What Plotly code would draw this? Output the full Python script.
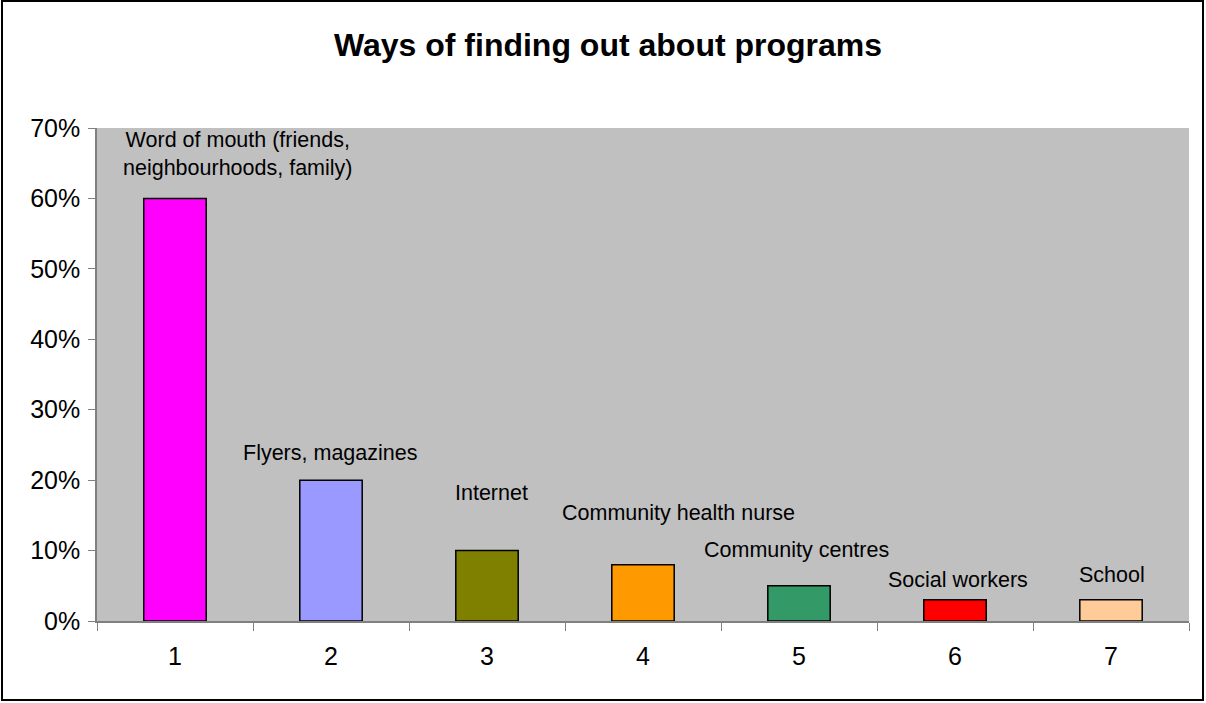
import plotly.graph_objects as go

categories = ["1", "2", "3", "4", "5", "6", "7"]
values = [0.60, 0.20, 0.10, 0.08, 0.05, 0.03, 0.03]
labels = ["Word of mouth (friends,<br>neighbourhoods, family)", "Flyers, magazines", "Internet",
          "Community health nurse", "Community centres", "Social workers", "School"]
colors = ["#FF00FF", "#9999FF", "#808000", "#FF9900", "#339966", "#FF0000", "#FFCC99"]

# label placement offsets (pixels), as dragged in the original
label_dx = [62, -1, 4, 35, -3, 3, 1]
label_dy = [44, 27, 58, 52, 36, 20, 25]

W, H = 1206, 703
ml, mr, mt, mb = 97, 17, 128, 82
pw, ph = W - ml - mr, H - mt - mb
FONT = "Liberation Sans, Arial"

fig = go.Figure(go.Bar(
    x=categories, y=values,
    marker=dict(color=colors, line=dict(color="black", width=1.5)),
    width=0.4, hoverinfo="skip",
))

for i, (v, t, dx, dy) in enumerate(zip(values, labels, label_dx, label_dy)):
    fig.add_annotation(x=i, y=v, text=t, showarrow=False, xanchor="center", yanchor="middle",
                       xshift=dx, yshift=dy, align="center",
                       font=dict(family=FONT, size=21.5, color="black"))

fig.add_shape(type="rect", xref="paper", yref="paper",
              x0=(2 - ml) / pw, x1=(W - 3 - ml) / pw,
              y0=(H - mb - (H - 3)) / ph, y1=(H - mb - 1) / ph,
              line=dict(color="black", width=2), fillcolor="rgba(0,0,0,0)", layer="below")

fig.update_layout(
    width=W, height=H,
    margin=dict(l=ml, r=mr, t=mt, b=mb),
    paper_bgcolor="white", plot_bgcolor="#C0C0C0",
    showlegend=False,
    title=dict(text="<b>Ways of finding out about programs</b>", x=608 / W, xref="container",
               xanchor="center", y=(H - 45) / H, yanchor="middle",
               font=dict(family=FONT, size=32, color="black")),
    xaxis=dict(type="category", tickson="boundaries", ticks="outside", ticklen=8,
               tickcolor="#808080", showgrid=False, showline=True, linecolor="#808080",
               linewidth=1.5, ticklabelstandoff=12,
               tickfont=dict(family=FONT, size=25, color="black")),
    yaxis=dict(range=[0, 0.7], dtick=0.1, tickformat=".0%", ticks="outside", ticklen=7,
               tickcolor="#808080", showgrid=False, showline=True, linecolor="#808080",
               linewidth=1.5, zeroline=False, ticklabelstandoff=3,
               tickfont=dict(family=FONT, size=25, color="black")),
)

fig.write_html("out.html", config={"displayModeBar": False},
               post_script="document.body.style.margin='0';document.body.style.padding='0';")
